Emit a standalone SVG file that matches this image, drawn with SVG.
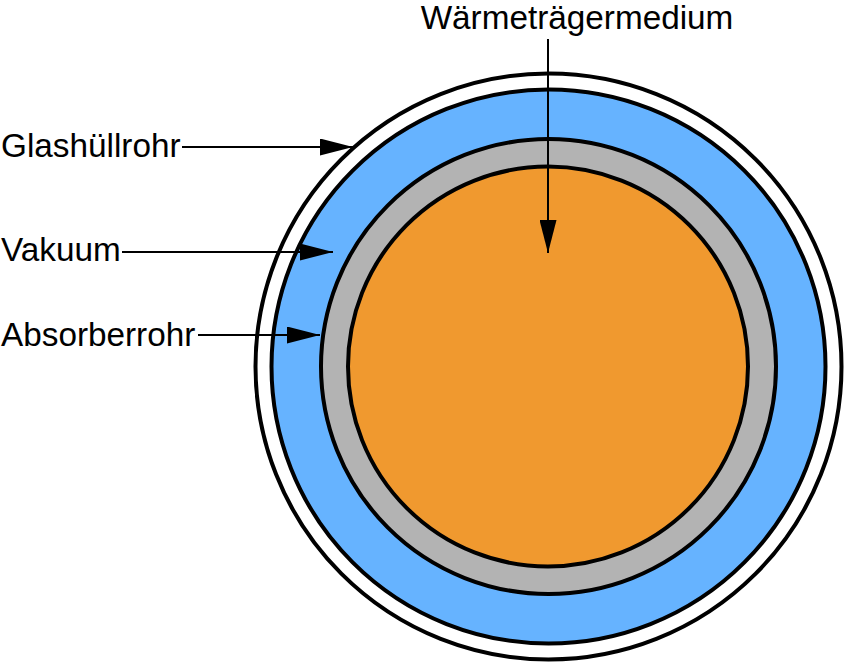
<svg xmlns="http://www.w3.org/2000/svg" width="845" height="662" viewBox="0 0 845 662">
<style>
.ring{stroke:#000;stroke-width:4}
.lbl{font-family:"Liberation Sans",Arial,sans-serif;font-size:33.3px;fill:#000}
.ptr{stroke:#000;stroke-width:2;fill:none}
</style>
<defs>
<marker id="ah" viewBox="0 0 33 17" refX="33" refY="8.5" markerWidth="33" markerHeight="17" markerUnits="userSpaceOnUse" orient="auto">
<path d="M0,0 L33,8.5 L0,17 Z" fill="#000"/>
</marker>
</defs>
<g id="glashuellrohr"><circle class="ring" cx="548.5" cy="366.5" r="293" fill="#fff"/></g>
<g id="vakuum"><circle class="ring" cx="548.5" cy="366.5" r="277" fill="#66b3ff"/></g>
<g id="absorberrohr"><circle class="ring" cx="548.5" cy="366.5" r="227.5" fill="#b3b3b3"/></g>
<g id="waermetraegermedium"><circle class="ring" cx="548" cy="366.5" r="200" fill="#f0992f"/></g>
<g id="labels">
<text class="lbl" x="577" y="29" text-anchor="middle">Wärmeträgermedium</text>
<text class="lbl" x="1" y="157">Glashüllrohr</text>
<text class="lbl" x="1" y="261">Vakuum</text>
<text class="lbl" x="1" y="346">Absorberrohr</text>
</g>
<g id="connectors">
<line class="ptr" x1="182" y1="147" x2="353" y2="147" marker-end="url(#ah)"/>
<line class="ptr" x1="122" y1="252" x2="333" y2="252" marker-end="url(#ah)"/>
<line class="ptr" x1="198" y1="335" x2="320" y2="335" marker-end="url(#ah)"/>
<line class="ptr" x1="548" y1="39" x2="548" y2="253" marker-end="url(#ah)"/>
</g>
</svg>
